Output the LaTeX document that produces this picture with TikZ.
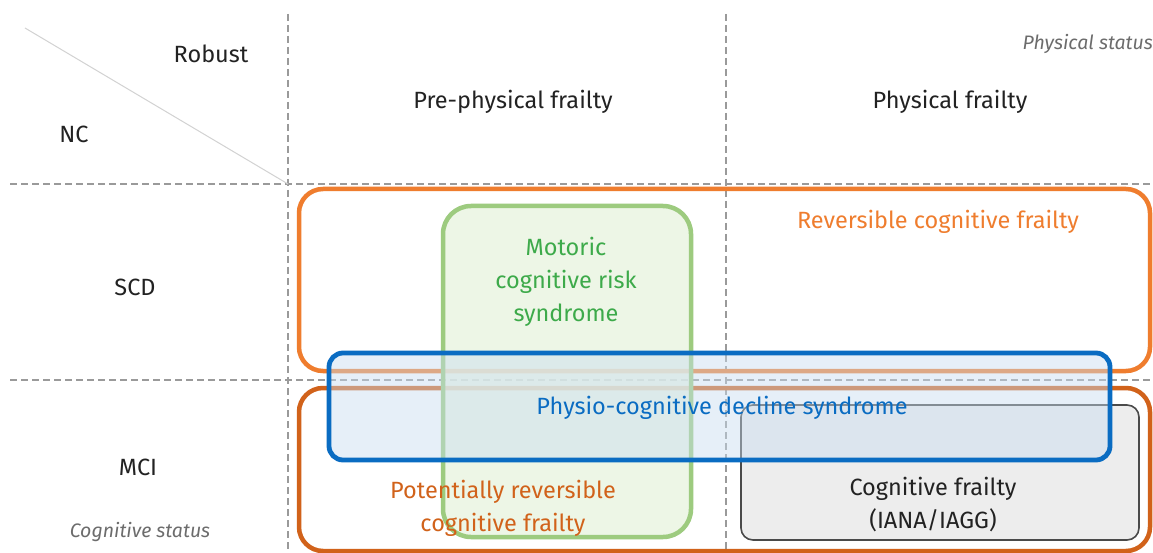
\documentclass[tikz,border=0pt]{standalone}
\usepackage{fontspec}
\setmainfont{Fira Sans}
\definecolor{gridgray}{HTML}{9A9A9A}
\definecolor{orA}{HTML}{EF7D2E}
\definecolor{orB}{HTML}{D1621A}
\definecolor{grB}{HTML}{9DCB7F}
\definecolor{grF}{HTML}{E9F4E0}
\definecolor{grT}{HTML}{3DAA4A}
\definecolor{blB}{HTML}{0A6CC2}
\definecolor{blF}{HTML}{C9DDF0}
\definecolor{gyF}{HTML}{EDEDED}
\definecolor{gyB}{HTML}{4A4A4A}
\definecolor{txt}{HTML}{222222}
\tikzset{
  grid/.style={draw=gridgray, line width=2pt, dash pattern=on 7pt off 4pt},
  lbl/.style={font=\fontsize{23.5}{28}\selectfont, text=txt, inner sep=0pt, align=center},
  ital/.style={font=\fontsize{19.5}{22}\selectfont\itshape, text=gray!85!black, inner sep=0pt},
  inlbl/.style={font=\fontsize{23.5}{33}\selectfont, inner sep=0pt, align=center},
}
\begin{document}
\begin{tikzpicture}[x=1pt,y=-1pt]
\useasboundingbox[fill=white] (0,0) rectangle (1153,553);
% grid
\coordinate (v1t) at (288,14); \coordinate (v1b) at (288,553);
\coordinate (v2t) at (726,14); \coordinate (v2b) at (726,553);
\coordinate (h1l) at (10,184); \coordinate (h1r) at (1153,184);
\coordinate (h2l) at (10,380); \coordinate (h2r) at (1153,380);
\coordinate (dgs) at (25,28);
\draw[grid] (v1t) -- (v1b);
\draw[grid] (v2t) -- (v2b);
\draw[grid] (h1l) -- (h1r);
\draw[grid] (h2l) -- (h2r);
\draw[gray!35, line width=1pt] (dgs) -- (v1t |- h1l);
% header labels
\node[lbl] (robust) at (211,54) {Robust};
\node[lbl] (nc) at (74,134) {NC};
\node[ital, anchor=east] (phys) at (1153,44) {Physical status};
\node[lbl] (pre) at (513,102) {Pre-physical frailty};
\node[lbl] (pf) at (950,102) {Physical frailty};
\node[lbl] (scd) at (135,287) {SCD};
\node[lbl] (mci) at (138,467) {MCI};
\node[ital] (cog) at (140,532) {Cognitive status};
% orange boxes
\draw[orA, line width=4.5pt, rounded corners=24pt] (299,189) rectangle (1150,371);
\draw[orB, line width=4.5pt, rounded corners=24pt] (299,388) rectangle (1150,551);
% green box
\draw[grB, fill=grF, fill opacity=0.8, line width=4.5pt, rounded corners=28pt] (443,206) rectangle (691,537);
% gray box
\draw[gyB, fill=gyF, line width=1.6pt, rounded corners=12pt] (741,405) rectangle (1139,540);
% blue box
\draw[blB, fill=blF, fill opacity=0.45, line width=4.8pt, rounded corners=14pt] (329,353) rectangle (1110,460);
% inner labels
\node[inlbl, text=orA] (rcf) at (938,222) {Reversible cognitive frailty};
\node[inlbl, text=grT] (mcr) at (566,282) {Motoric\\cognitive risk\\syndrome};
\node[inlbl, text=blB] (pcd) at (722,408) {Physio-cognitive decline syndrome};
\node[inlbl, text=orB] (prcf) at (503,508) {Potentially reversible\\cognitive frailty};
\node[inlbl, text=txt] (cf) at (933,505) {Cognitive frailty\\(IANA/IAGG)};
\end{tikzpicture}
\end{document}
